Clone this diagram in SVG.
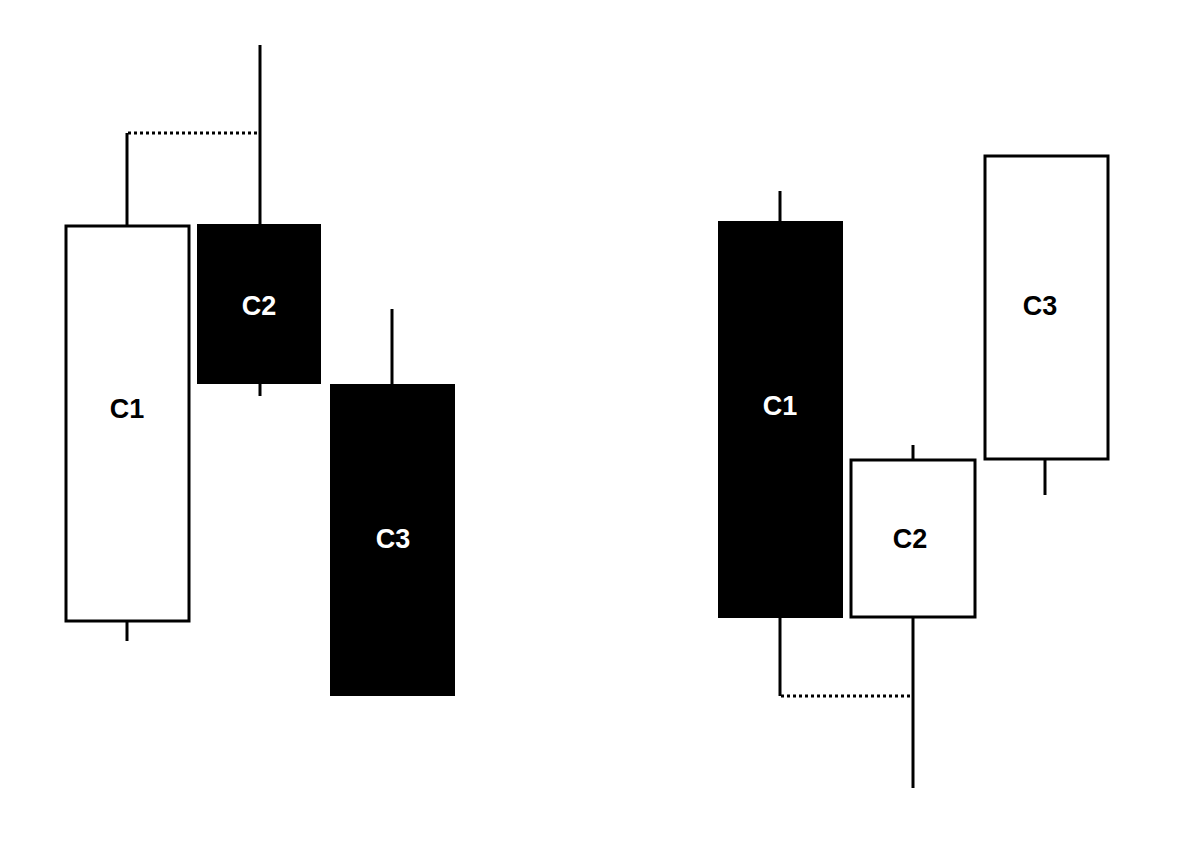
<svg xmlns="http://www.w3.org/2000/svg" width="1200" height="854" viewBox="0 0 1200 854">
<style>
.w{fill:#fff;stroke:#000;stroke-width:3}
.b{fill:#000}
.l{stroke:#000;stroke-width:3;fill:none}
.d{stroke:#000;stroke-width:3;stroke-dasharray:3 3;fill:none}
text{font-family:"Liberation Sans",Arial,sans-serif;font-weight:bold;font-size:27px;text-anchor:middle}
.tw{fill:#fff}
</style>
<rect width="1200" height="854" fill="#fff"/>
<g id="connectors">
<line class="l" x1="127" y1="133" x2="127" y2="226"/>
<line class="l" x1="127" y1="621" x2="127" y2="641"/>
<line class="d" x1="128" y1="133" x2="259" y2="133"/>
<line class="l" x1="260" y1="45" x2="260" y2="225"/>
<line class="l" x1="260" y1="384" x2="260" y2="396"/>
<line class="l" x1="392" y1="309" x2="392" y2="384"/>
<line class="l" x1="780" y1="191" x2="780" y2="221"/>
<line class="l" x1="780" y1="617" x2="780" y2="696"/>
<line class="d" x1="781" y1="696" x2="912" y2="696"/>
<line class="l" x1="913" y1="445" x2="913" y2="460"/>
<line class="l" x1="913" y1="617" x2="913" y2="788"/>
<line class="l" x1="1045" y1="459" x2="1045" y2="495"/>
</g>
<g id="L-C1"><rect class="w" x="66" y="226" width="123" height="395"/><text x="127" y="418">C1</text></g>
<g id="L-C2"><rect class="b" x="197" y="224" width="124" height="160"/><text class="tw" x="259" y="315">C2</text></g>
<g id="L-C3"><rect class="b" x="330" y="384" width="125" height="312"/><text class="tw" x="393" y="548">C3</text></g>
<g id="R-C1"><rect class="b" x="718" y="221" width="125" height="397"/><text class="tw" x="780" y="415">C1</text></g>
<g id="R-C2"><rect class="w" x="851" y="460" width="124" height="157"/><text x="910" y="548">C2</text></g>
<g id="R-C3"><rect class="w" x="985" y="156" width="123" height="303"/><text x="1040" y="315">C3</text></g>
</svg>
